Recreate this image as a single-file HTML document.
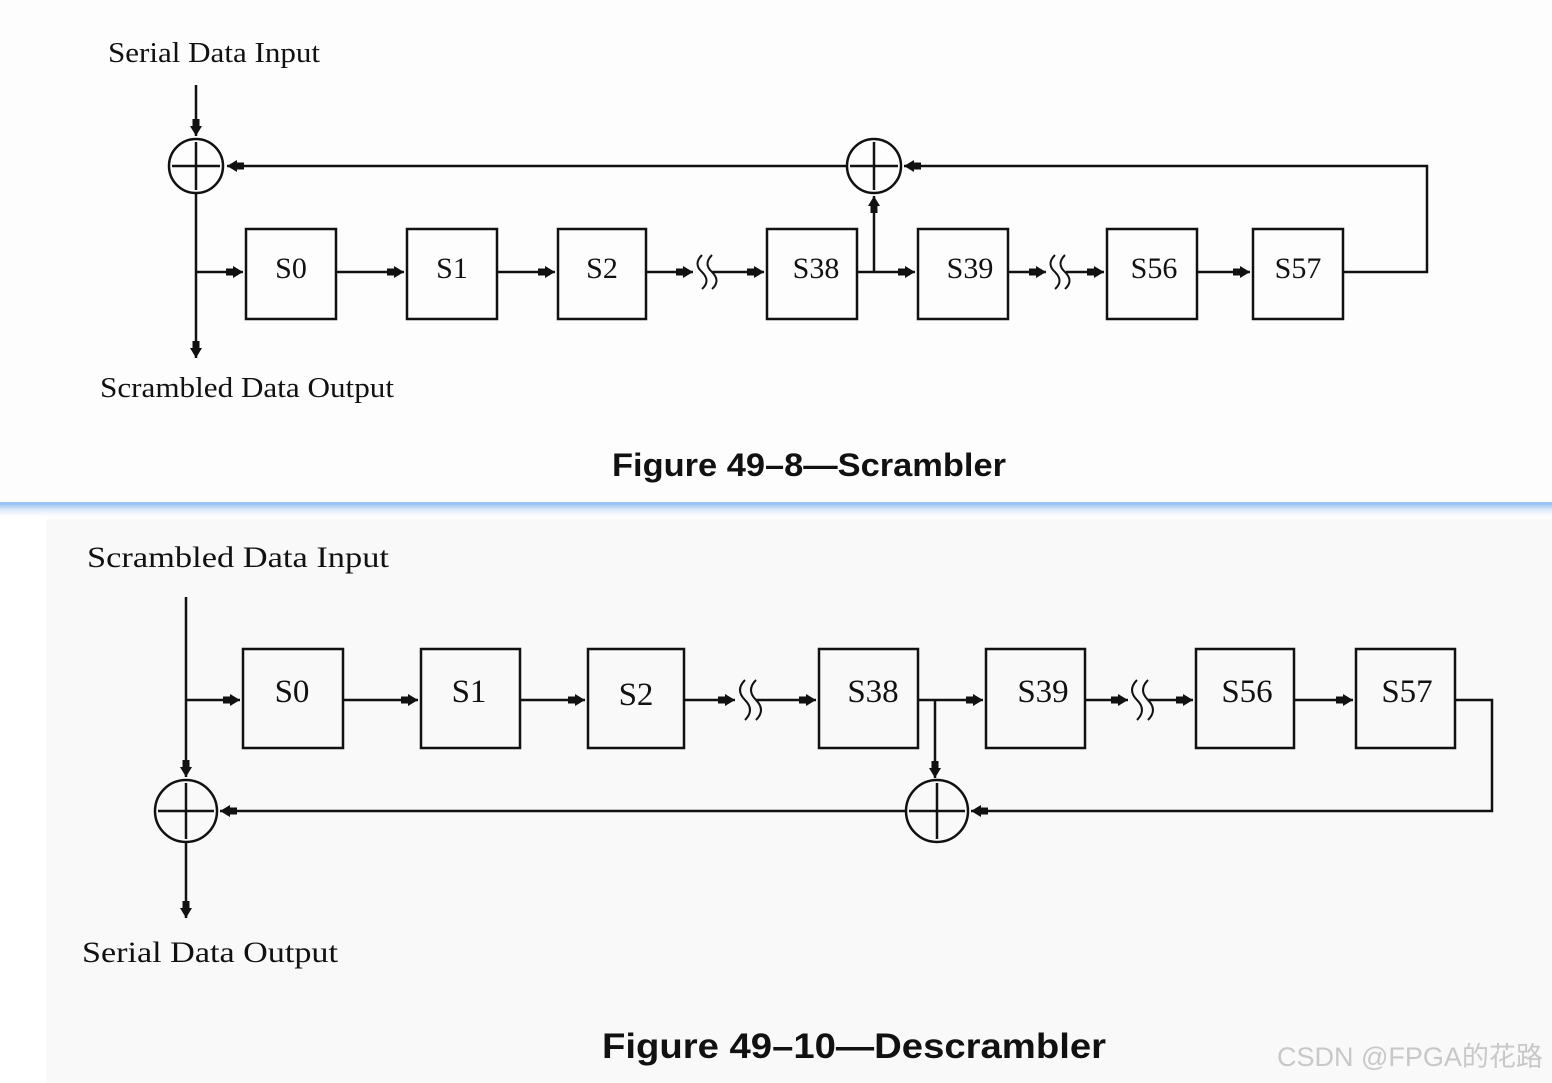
<!DOCTYPE html>
<html><head><meta charset="utf-8"><style>
html,body{margin:0;padding:0;background:#fff;}
svg{display:block;}
.s{font-family:"Liberation Serif",serif;fill:#111;}
.b{font-family:"Liberation Sans",sans-serif;font-weight:bold;fill:#111;}
</style></head><body>
<svg width="1552" height="1083" viewBox="0 0 1552 1083" xmlns="http://www.w3.org/2000/svg">
<defs>
<marker id="a" markerUnits="userSpaceOnUse" markerWidth="18" markerHeight="14" refX="17" refY="7" orient="auto">
<path d="M0,3.5 L7,3.5 L7,1 L17,7 L7,13 L7,10.5 L0,10.5 Z" fill="#111"/></marker>
<linearGradient id="g" x1="0" y1="0" x2="0" y2="1"><stop offset="0" stop-color="#a9c9f3"/><stop offset="1" stop-color="#fff" stop-opacity="0"/></linearGradient>
</defs>
<rect x="0" y="0" width="1552" height="502" fill="#fdfdfd"/>
<rect x="0" y="502" width="1552" height="3" fill="#9cc2f2"/>
<rect x="0" y="505" width="1552" height="14" fill="url(#g)"/>
<rect x="46" y="519" width="1506" height="564" fill="#f9f9f9"/>

<g stroke="#111" stroke-width="2.5" fill="none">
<!-- TOP -->
<line x1="196" y1="85" x2="196" y2="136" marker-end="url(#a)"/>
<circle cx="196" cy="166" r="27"/>
<line x1="196" y1="142" x2="196" y2="190"/><line x1="172" y1="166" x2="220" y2="166"/>
<line x1="196" y1="193" x2="196" y2="358" marker-end="url(#a)"/>
<line x1="196" y1="272" x2="243" y2="272" marker-end="url(#a)"/>
<line x1="847" y1="166" x2="227" y2="166" marker-end="url(#a)"/>
<circle cx="874" cy="166" r="27"/>
<line x1="874" y1="142" x2="874" y2="190"/><line x1="850" y1="166" x2="898" y2="166"/>
<polyline points="1343,272 1427,272 1427,166 904,166" marker-end="url(#a)"/>
<rect x="246" y="229" width="90" height="90"/>
<rect x="407" y="229" width="90" height="90"/>
<rect x="558" y="229" width="88" height="90"/>
<rect x="767" y="229" width="90" height="90"/>
<rect x="918" y="229" width="90" height="90"/>
<rect x="1107" y="229" width="90" height="90"/>
<rect x="1253" y="229" width="90" height="90"/>
<line x1="336" y1="272" x2="404" y2="272" marker-end="url(#a)"/>
<line x1="497" y1="272" x2="555" y2="272" marker-end="url(#a)"/>
<line x1="646" y1="272" x2="693" y2="272" marker-end="url(#a)"/>
<line x1="712" y1="272" x2="764" y2="272" marker-end="url(#a)"/>
<line x1="857" y1="272" x2="915" y2="272" marker-end="url(#a)"/>
<line x1="874" y1="272" x2="874" y2="196" marker-end="url(#a)"/>
<line x1="1008" y1="272" x2="1046" y2="272" marker-end="url(#a)"/>
<line x1="1066" y1="272" x2="1104" y2="272" marker-end="url(#a)"/>
<line x1="1197" y1="272" x2="1250" y2="272" marker-end="url(#a)"/>
<path d="M702,255 q-9,9 0,17 q9,9 0,17 M712,255 q-9,9 0,17 q9,9 0,17" stroke-width="2"/>
<path d="M1055,255 q-9,9 0,17 q9,9 0,17 M1065,255 q-9,9 0,17 q9,9 0,17" stroke-width="2"/>

<!-- BOTTOM -->
<line x1="186" y1="597" x2="186" y2="777" marker-end="url(#a)"/>
<line x1="186" y1="700" x2="240" y2="700" marker-end="url(#a)"/>
<circle cx="186" cy="811" r="31"/>
<line x1="186" y1="783" x2="186" y2="839"/><line x1="158" y1="811" x2="214" y2="811"/>
<line x1="186" y1="842" x2="186" y2="918" marker-end="url(#a)"/>
<line x1="906" y1="811" x2="220" y2="811" marker-end="url(#a)"/>
<circle cx="937" cy="811" r="31"/>
<line x1="937" y1="783" x2="937" y2="839"/><line x1="909" y1="811" x2="965" y2="811"/>
<polyline points="1455,700 1492,700 1492,811 971,811" marker-end="url(#a)"/>
<line x1="935" y1="700" x2="935" y2="778" marker-end="url(#a)"/>
<rect x="243" y="649" width="100" height="99"/>
<rect x="421" y="649" width="99" height="99"/>
<rect x="588" y="649" width="96" height="99"/>
<rect x="819" y="649" width="99" height="99"/>
<rect x="986" y="649" width="99" height="99"/>
<rect x="1196" y="649" width="98" height="99"/>
<rect x="1356" y="649" width="99" height="99"/>
<line x1="343" y1="700" x2="418" y2="700" marker-end="url(#a)"/>
<line x1="520" y1="700" x2="585" y2="700" marker-end="url(#a)"/>
<line x1="684" y1="700" x2="735" y2="700" marker-end="url(#a)"/>
<line x1="756" y1="700" x2="816" y2="700" marker-end="url(#a)"/>
<line x1="918" y1="700" x2="983" y2="700" marker-end="url(#a)"/>
<line x1="1085" y1="700" x2="1128" y2="700" marker-end="url(#a)"/>
<line x1="1148" y1="700" x2="1193" y2="700" marker-end="url(#a)"/>
<line x1="1294" y1="700" x2="1353" y2="700" marker-end="url(#a)"/>
<path d="M745,680 q-10,10 0,20 q10,10 0,20 M756,680 q-10,10 0,20 q10,10 0,20" stroke-width="2"/>
<path d="M1137,680 q-10,10 0,20 q10,10 0,20 M1148,680 q-10,10 0,20 q10,10 0,20" stroke-width="2"/>
</g>

<g class="s" font-size="28">
<text x="108" y="62" textLength="212" lengthAdjust="spacingAndGlyphs">Serial Data Input</text>
<text x="100" y="397" textLength="294" lengthAdjust="spacingAndGlyphs">Scrambled Data Output</text>
<g text-anchor="middle" font-size="30">
<text x="291" y="278">S0</text><text x="452" y="278">S1</text><text x="602" y="278">S2</text>
<text x="816" y="278">S38</text><text x="970" y="278">S39</text><text x="1154" y="278">S56</text><text x="1298" y="278">S57</text>
</g>
<text x="87" y="567" font-size="30" textLength="302" lengthAdjust="spacingAndGlyphs">Scrambled Data Input</text>
<text x="82" y="962" font-size="30" textLength="256" lengthAdjust="spacingAndGlyphs">Serial Data Output</text>
<g text-anchor="middle" font-size="33">
<text x="292" y="702">S0</text><text x="469" y="702">S1</text><text x="636" y="705">S2</text>
<text x="873" y="702">S38</text><text x="1043" y="702">S39</text><text x="1247" y="702">S56</text><text x="1407" y="702">S57</text>
</g>
</g>
<text class="b" x="612" y="476" font-size="32" textLength="394" lengthAdjust="spacingAndGlyphs">Figure 49–8—Scrambler</text>
<text class="b" x="602" y="1058" font-size="35" textLength="504" lengthAdjust="spacingAndGlyphs">Figure 49–10—Descrambler</text>
<text x="1277" y="1066" font-size="27" fill="#c8c8c8" font-family="'Liberation Sans','Noto Sans CJK SC',sans-serif">CSDN @FPGA的花路</text>
</svg>
</body></html>
